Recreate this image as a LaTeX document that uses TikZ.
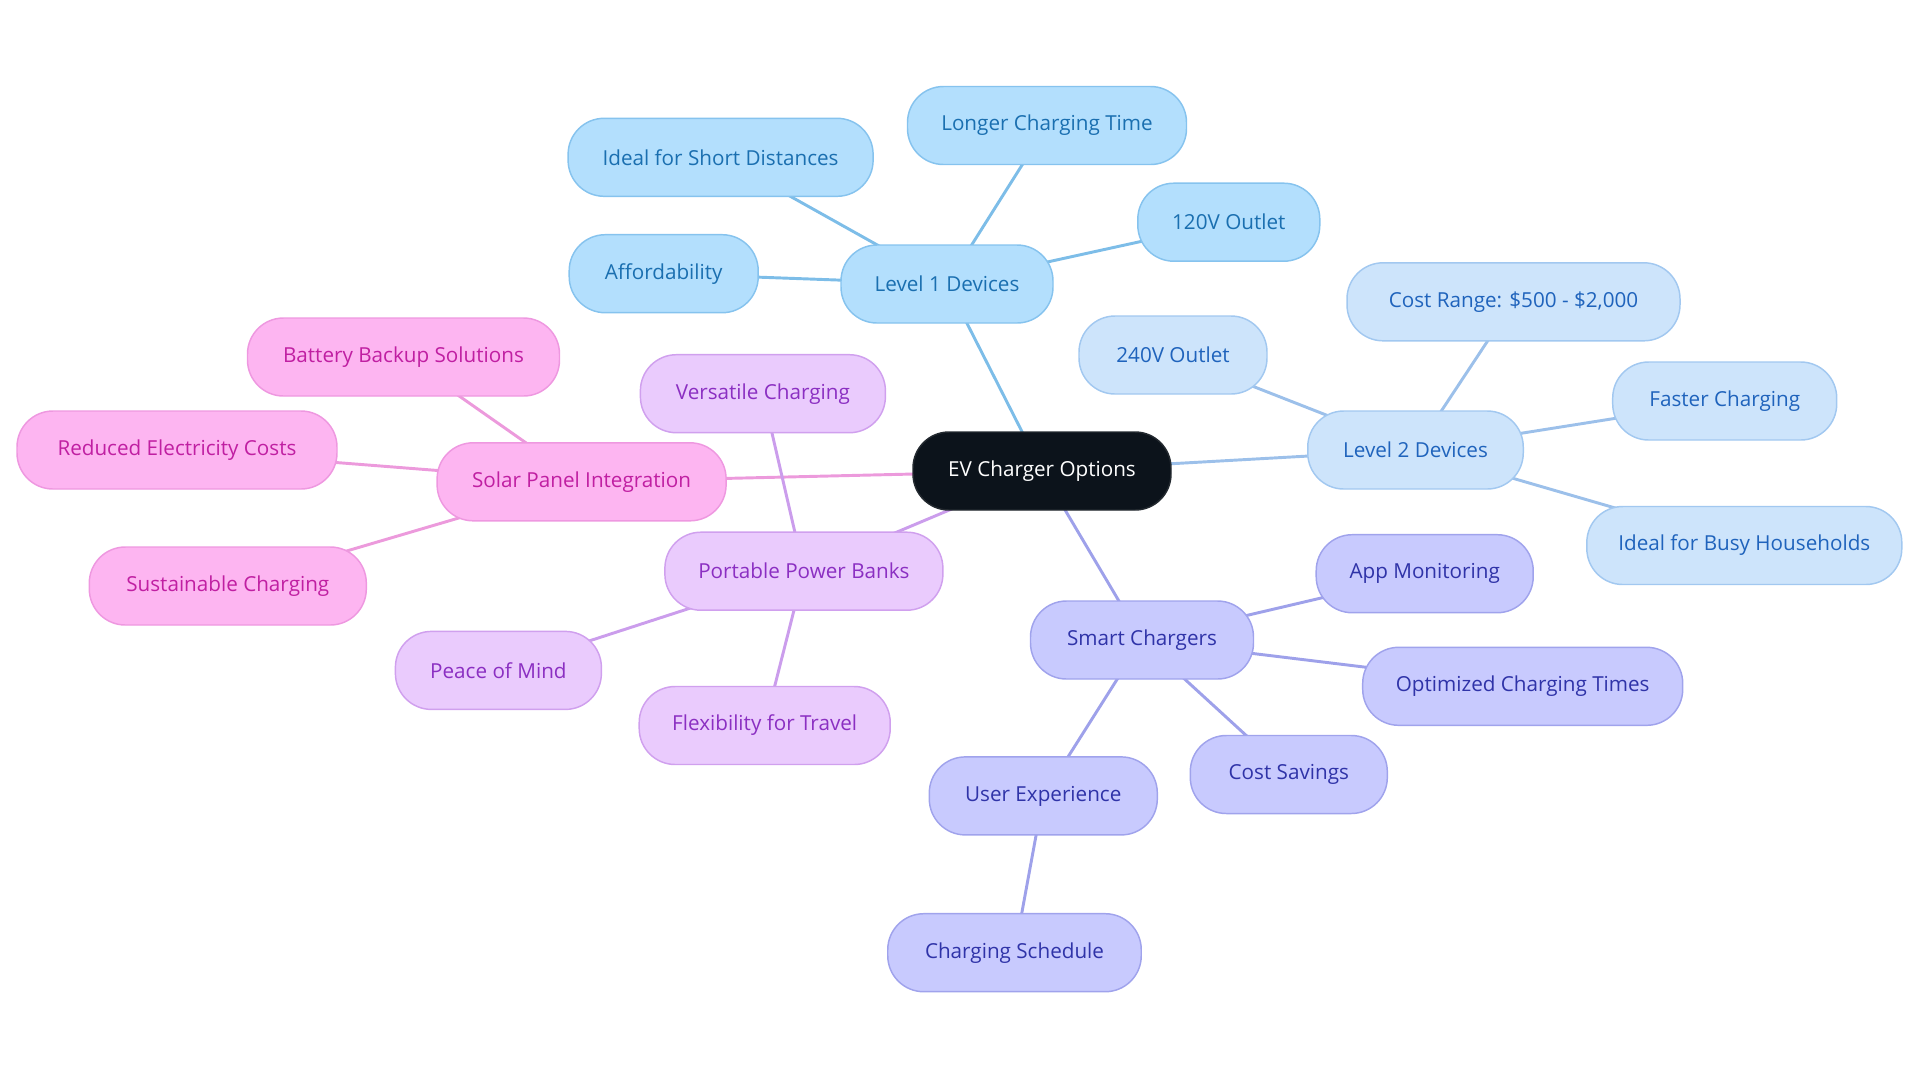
\documentclass[tikz,border=0pt]{standalone}
\usepackage{fontspec}
\setmainfont{Open Sans}
\usetikzlibrary{backgrounds}
\definecolor{rootfill}{HTML}{0C131B}
\definecolor{Lafill}{HTML}{B3DFFD}\definecolor{Ladraw}{HTML}{86C3EE}\definecolor{Latext}{HTML}{1A6FB0}\definecolor{Laline}{HTML}{7DBDE8}
\definecolor{Lbfill}{HTML}{CDE4FB}\definecolor{Lbdraw}{HTML}{A2C8F0}\definecolor{Lbtext}{HTML}{1F63BC}\definecolor{Lbline}{HTML}{9CC0EA}
\definecolor{SCfill}{HTML}{C8CAFE}\definecolor{SCdraw}{HTML}{A0A3EC}\definecolor{SCtext}{HTML}{2F33A8}\definecolor{SCline}{HTML}{9EA1EA}
\definecolor{PPfill}{HTML}{EACBFD}\definecolor{PPdraw}{HTML}{D0A0EE}\definecolor{PPtext}{HTML}{8B2FC2}\definecolor{PPline}{HTML}{CB9DEC}
\definecolor{SPfill}{HTML}{FDB5F1}\definecolor{SPdraw}{HTML}{EE98E0}\definecolor{SPtext}{HTML}{C01FA2}\definecolor{SPline}{HTML}{EC9ADC}
\begin{document}
\begin{tikzpicture}[x=0.75pt,y=-0.75pt,
  base/.style={draw, line width=1.1pt, rounded corners=27pt, minimum height=58.5pt, inner sep=0pt,
    font=\fontsize{15.5}{18}\selectfont, minimum width={#1*0.75pt}},
  rootbox/.style={base=#1, fill=rootfill, draw=rootfill!80!gray, text=white},
  laone/.style={base=#1, fill=Lafill, draw=Ladraw, text=Latext},
  latwo/.style={base=#1, fill=Lbfill, draw=Lbdraw, text=Lbtext},
  smart/.style={base=#1, fill=SCfill, draw=SCdraw, text=SCtext},
  port/.style={base=#1, fill=PPfill, draw=PPdraw, text=PPtext},
  solarb/.style={base=#1, fill=SPfill, draw=SPdraw, text=SPtext},
  link/.style={line width=2.2pt}
]
\useasboundingbox (0,0) rectangle (1920,1083);

\node[rootbox=258] (root) at (1042,471) {EV Charger Options};

\node[laone=212] (l1) at (947,284) {Level 1 Devices};
\node[laone=305] (short) at (720.6,157.3) {Ideal for Short Distances};
\node[laone=279] (longer) at (1047,125.5) {Longer Charging Time};
\node[laone=182] (v120) at (1228.8,222.2) {120V Outlet};
\node[laone=189] (afford) at (663.7,273.7) {Affordability};

\node[latwo=215.5] (l2) at (1415.5,450) {Level 2 Devices};
\node[latwo=333] (cost) at (1513.5,301.8) {Cost Range: \$500 - \$2,000};
\node[latwo=188] (v240) at (1173,355) {240V Outlet};
\node[latwo=224] (faster) at (1724.7,401) {Faster Charging};
\node[latwo=315] (busy) at (1744.3,545.5) {Ideal for Busy Households};

\node[solarb=289] (solar) at (581.6,481.8) {Solar Panel Integration};
\node[solarb=312] (battery) at (403.5,357) {Battery Backup Solutions};
\node[solarb=320] (reduced) at (177,450) {Reduced Electricity Costs};
\node[solarb=277] (sustain) at (227.8,586) {Sustainable Charging};

\node[port=278] (portable) at (803.9,571.2) {Portable Power Banks};
\node[port=245] (versatile) at (762.9,393.7) {Versatile Charging};
\node[port=206] (peace) at (498.4,670.4) {Peace of Mind};
\node[port=251] (flex) at (764.7,725.5) {Flexibility for Travel};

\node[smart=223] (sc) at (1142,640) {Smart Chargers};
\node[smart=217] (app) at (1424.7,573.7) {App Monitoring};
\node[smart=320] (optim) at (1522.7,686.3) {Optimized Charging Times};
\node[smart=197] (savings) at (1288.8,774.5) {Cost Savings};
\node[smart=228] (user) at (1043.3,795.9) {User Experience};
\node[smart=253.5] (sched) at (1014.5,952.7) {Charging Schedule};

\begin{scope}[on background layer]
\draw[link, Laline] (root.center) -- (l1.center);
\draw[link, Laline] (l1.center) -- (short.center);
\draw[link, Laline] (l1.center) -- (longer.center);
\draw[link, Laline] (l1.center) -- (v120.center);
\draw[link, Laline] (l1.center) -- (afford.center);

\draw[link, Lbline] (root.center) -- (l2.center);
\draw[link, Lbline] (l2.center) -- (cost.center);
\draw[link, Lbline] (l2.center) -- (v240.center);
\draw[link, Lbline] (l2.center) -- (faster.center);
\draw[link, Lbline] (l2.center) -- (busy.center);

\draw[link, SPline] (root.center) -- (solar.center);
\draw[link, SPline] (solar.center) -- (battery.center);
\draw[link, SPline] (solar.center) -- (reduced.center);
\draw[link, SPline] (solar.center) -- (sustain.center);

\draw[link, PPline] (root.center) -- (portable.center);
\draw[link, PPline] (portable.center) -- (versatile.center);
\draw[link, PPline] (portable.center) -- (peace.center);
\draw[link, PPline] (portable.center) -- (flex.center);

\draw[link, SCline] (root.center) -- (sc.center);
\draw[link, SCline] (sc.center) -- (app.center);
\draw[link, SCline] (sc.center) -- (optim.center);
\draw[link, SCline] (sc.center) -- (savings.center);
\draw[link, SCline] (sc.center) -- (user.center);
\draw[link, SCline] (user.center) -- (sched.center);
\end{scope}
\end{tikzpicture}
\end{document}
